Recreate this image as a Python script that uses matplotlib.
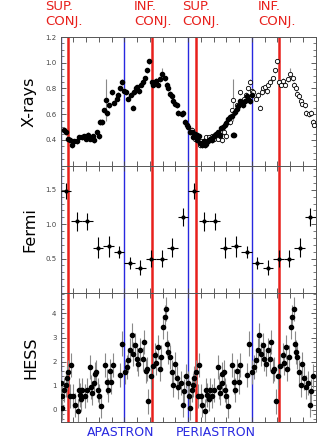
import numpy as np
import matplotlib
matplotlib.use("Agg")
import matplotlib.pyplot as plt
from matplotlib.ticker import MultipleLocator

# X-rays, first orbit (filled, repeated as open circles one orbit later)
xr_phase = [0.028, 0.039, 0.055, 0.073, 0.091, 0.104, 0.124, 0.143, 0.164, 0.183,
            0.200, 0.213, 0.230, 0.250, 0.264, 0.283, 0.300, 0.308, 0.327, 0.342,
            0.355, 0.362, 0.380, 0.405, 0.420, 0.440, 0.453, 0.467, 0.483, 0.497,
            0.510, 0.530, 0.550, 0.565, 0.575, 0.590, 0.600, 0.615, 0.627, 0.645,
            0.665, 0.680, 0.695, 0.713, 0.725, 0.745, 0.760, 0.780, 0.797, 0.820,
            0.830, 0.845, 0.857, 0.870, 0.883, 0.896, 0.914, 0.922, 0.950, 0.960,
            0.975, 0.990]
xr_flux = [0.48, 0.46, 0.41, 0.40, 0.36, 0.39, 0.39, 0.42, 0.42, 0.43,
           0.41, 0.44, 0.41, 0.43, 0.40, 0.46, 0.43, 0.54, 0.54, 0.63,
           0.71, 0.61, 0.67, 0.77, 0.69, 0.72, 0.75, 0.80, 0.85, 0.78,
           0.77, 0.72, 0.75, 0.65, 0.77, 0.80, 0.81, 0.78, 0.83, 0.85,
           0.88, 0.94, 1.01, 0.85, 0.83, 0.86, 0.83, 0.87, 0.91, 0.88,
           0.83, 0.80, 0.76, 0.74, 0.70, 0.68, 0.67, 0.61, 0.60, 0.61,
           0.54, 0.52]
xr_err = [0.02] * len(xr_flux)
xr_err[20] = 0.16
xr_err[48] = 0.05

# X-rays, second half orbit (filled)
xr2_phase = [1.000, 1.014, 1.030, 1.040, 1.053, 1.066, 1.070, 1.085, 1.095, 1.106,
             1.120, 1.130, 1.140, 1.157, 1.170, 1.183, 1.195, 1.210, 1.220, 1.235,
             1.250, 1.260, 1.270, 1.287, 1.300, 1.313, 1.325, 1.340, 1.350, 1.358,
             1.366, 1.380, 1.392, 1.405, 1.418, 1.430, 1.444, 1.460, 1.470, 1.485,
             1.497]
xr2_flux = [0.50, 0.46, 0.46, 0.42, 0.45, 0.44, 0.40, 0.43, 0.38, 0.36,
            0.39, 0.36, 0.37, 0.39, 0.41, 0.40, 0.42, 0.44, 0.45, 0.46,
            0.44, 0.49, 0.50, 0.52, 0.53, 0.56, 0.58, 0.59, 0.44, 0.44,
            0.62, 0.64, 0.66, 0.70, 0.69, 0.67, 0.70, 0.74, 0.72, 0.70,
            0.75]

# Fermi, 12 phase bins
fermi_phase = [(i + 0.5) / 12 for i in range(12)]
fermi_flux = [1.48, 1.04, 1.04, 0.66, 0.68, 0.60, 0.44, 0.37, 0.50, 0.50, 0.66, 1.11]
fermi_err = [0.12, 0.14, 0.12, 0.15, 0.15, 0.09, 0.09, 0.11, 0.12, 0.12, 0.14, 0.13]

# HESS
hess_phase = [0.000, 0.008, 0.013, 0.028, 0.039, 0.047, 0.060, 0.073, 0.081, 0.099,
              0.112, 0.133, 0.143, 0.150, 0.160, 0.170, 0.190, 0.205, 0.230, 0.238,
              0.248, 0.263, 0.268, 0.280, 0.290, 0.300, 0.313, 0.347, 0.360, 0.370,
              0.385, 0.398, 0.410, 0.465, 0.478, 0.504, 0.517, 0.530, 0.544, 0.557,
              0.570, 0.583, 0.597, 0.610, 0.623, 0.644, 0.653, 0.666, 0.675, 0.687,
              0.706, 0.720, 0.740, 0.750, 0.765, 0.777, 0.790, 0.805, 0.818, 0.826,
              0.836, 0.844, 0.857, 0.870, 0.883, 0.896, 0.910, 0.922, 0.940, 0.957,
              0.967, 0.980]
hess_flux = [1.10, 0.55, 0.07, 0.83, 1.03, 1.31, 1.58, 0.55, 1.86, 0.55,
             0.20, -0.07, 0.83, 0.62, 0.45, 0.83, 0.55, 0.83, 1.79, 0.96,
             0.70, 1.10, 1.50, 1.58, 0.83, 0.55, 0.14, 1.86, 1.17, 0.83,
             1.60, 1.17, 1.86, 1.44, 2.75, 1.58, 1.79, 2.07, 2.48, 3.10,
             2.30, 2.69, 2.10, 1.90, 2.50, 2.10, 2.83, 1.60, 1.70, 0.34,
             1.38, 1.80, 2.27, 1.95, 2.60, 1.70, 2.20, 3.44, 3.86, 4.20,
             2.75, 2.40, 2.20, 1.58, 1.03, 1.90, 1.33, 0.96, 1.10, 0.21,
             0.76, 1.40]
hess_err = [0.5] * len(hess_flux)

sup_conj = [0.058, 1.058]
inf_conj = [0.716, 1.716]
apastron = [0.5, 1.5]
periastron = [0.0, 1.0]

W, H = 327, 448
fig = plt.figure(figsize=(W / 100, H / 100), dpi=100)

def box(top, bottom):
    return [60.7 / W, 1 - bottom / H, (315.7 - 60.7) / W, (bottom - top) / H]

ax1 = fig.add_axes(box(37, 165.7))
ax2 = fig.add_axes(box(165.7, 293))
ax3 = fig.add_axes(box(293, 421.7))

red = "#e8201c"
blue = "#2828e0"
ecol = "#8a8a8a"

for ax in (ax1, ax2, ax3):
    for p in periastron + apastron:
        ax.axvline(p, color=blue, lw=1.0, zorder=1)
    for p in sup_conj + inf_conj:
        ax.axvline(p, color=red, lw=1.8, zorder=1)

# X-rays
xp = np.array(xr_phase)
ax1.errorbar(xp + 1, xr_flux, yerr=xr_err, fmt="o", ms=3.1, mfc="white", mec="black",
             mew=0.6, ecolor=ecol, elinewidth=0.8, zorder=3)
ax1.errorbar(xr2_phase, xr2_flux, yerr=0.02, fmt="o", ms=3.0, color="black",
             ecolor=ecol, elinewidth=0.8, zorder=4)
ax1.errorbar(xp, xr_flux, yerr=xr_err, fmt="o", ms=3.0, color="black",
             ecolor=ecol, elinewidth=0.8, zorder=4)
ax1.set_ylim(0.2, 1.2)
ax1.set_yticks([0.4, 0.6, 0.8, 1.0, 1.2])
ax1.yaxis.set_minor_locator(MultipleLocator(0.05))
ax1.set_ylabel("X-rays", fontsize=11.5, labelpad=6)

# Fermi
fp = np.array(fermi_phase)
for off in (0, 1):
    ax2.errorbar(fp + off, fermi_flux, xerr=1 / 24, yerr=fermi_err, fmt="o", ms=2.0,
                 color="black", ecolor="black", elinewidth=0.8, zorder=4)
ax2.set_ylim(0, 1.85)
ax2.set_yticks([0.5, 1.0, 1.5])
ax2.yaxis.set_minor_locator(MultipleLocator(0.1))
ax2.set_ylabel("Fermi", fontsize=11.5, labelpad=6)

# HESS
hp = np.array(hess_phase)
for off in (0, 1):
    ax3.errorbar(hp + off, hess_flux, yerr=hess_err, fmt="o", ms=3.0, color="black",
                 ecolor=ecol, elinewidth=0.8, zorder=4)
ax3.set_ylim(-0.5, 4.85)
ax3.set_yticks([0, 1, 2, 3, 4])
ax3.yaxis.set_minor_locator(MultipleLocator(0.2))
ax3.set_ylabel("HESS", fontsize=11.5, labelpad=10)

for ax in (ax1, ax2, ax3):
    ax.set_xlim(0, 2)
    ax.xaxis.set_major_locator(MultipleLocator(0.1))
    ax.tick_params(axis="x", which="both", direction="in", top=True, bottom=True,
                   labelbottom=False, length=3.5, width=0.6, color="#444444")
    ax.tick_params(axis="y", which="major", direction="in", left=True, right=True,
                   length=3.5, width=0.6, labelsize=5, labelcolor="#444444",
                   color="#444444", pad=3)
    ax.tick_params(axis="y", which="minor", direction="in", left=True, right=True,
                   length=2, width=0.5, color="#444444")
    for s in ax.spines.values():
        s.set_linewidth(0.7)
        s.set_color("#555555")

# annotations
def ftext(x, y, s, **kw):
    fig.text(x / W, 1 - y / H, s, **kw)

for x, s in [(45, "SUP.\nCONJ."), (134, "INF.\nCONJ."), (182, "SUP.\nCONJ."), (258, "INF.\nCONJ.")]:
    ftext(x, 0, s, color=red, fontsize=9.5, ha="left", va="top", linespacing=1.2)

ftext(121, 432, "APASTRON", color=blue, fontsize=9, ha="center", va="center")
ftext(216, 432, "PERIASTRON", color=blue, fontsize=9, ha="center", va="center")

fig.savefig("out.png", dpi=100)
